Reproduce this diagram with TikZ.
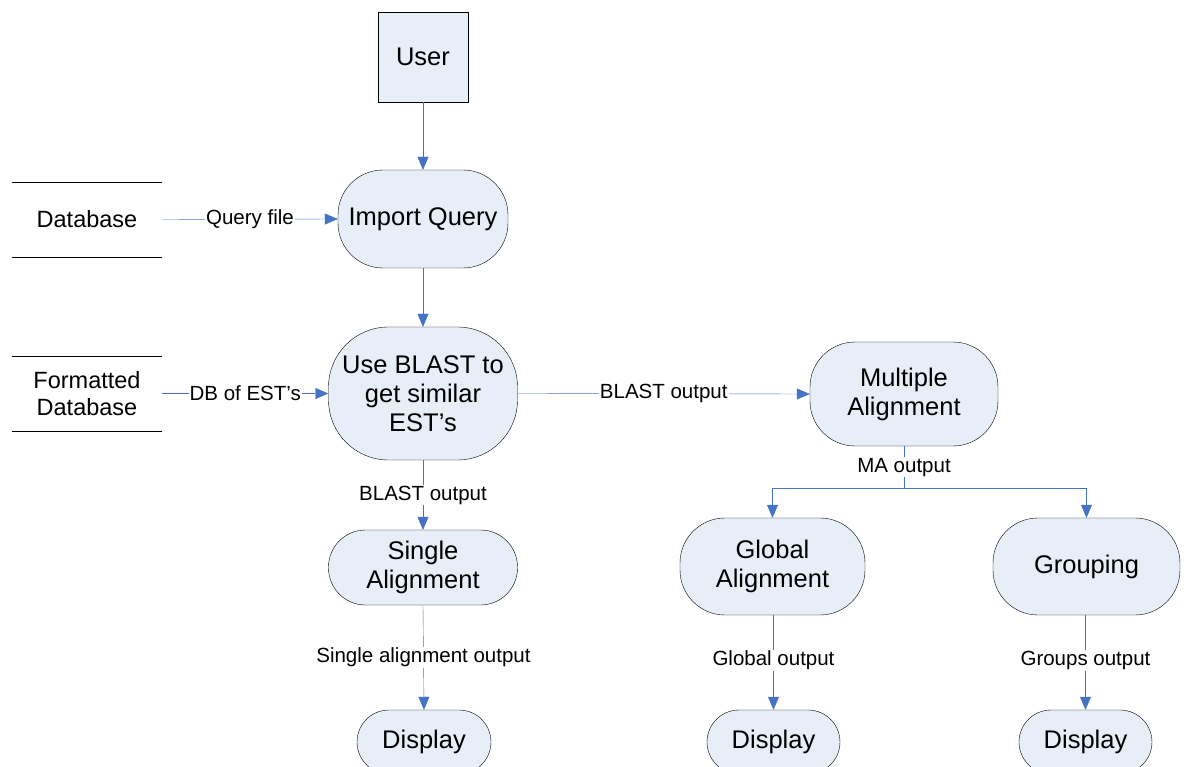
\documentclass[tikz,border=0pt]{standalone}
\usepackage{fontspec}
\setmainfont{Liberation Sans}
\usetikzlibrary{arrows.meta}
\definecolor{procfill}{HTML}{E8EEF8}
\definecolor{flowblue}{HTML}{4472C4}
\begin{document}
\begin{tikzpicture}[x=1pt,y=-1pt,
  proc/.style={draw=black,fill=procfill,rounded corners=45pt,align=center,
    inner sep=0pt,font=\fontsize{25.5}{29}\selectfont},
  store/.style={inner sep=0pt,align=center,minimum width=150pt,minimum height=75pt,
    font=\fontsize{23.5}{27}\selectfont},
  flow/.style={draw=flowblue,-{Triangle[length=13pt,width=11pt]}},
  lbl/.style={fill=white,inner sep=1pt,font=\fontsize{20.5}{23}\selectfont}]
\useasboundingbox (0,0) rectangle (1184,767);
% nodes
\node[draw=black,fill=procfill,minimum size=90pt,inner sep=0pt,
  font=\fontsize{25.5}{29}\selectfont] (user) at (423,57) {User};
\node[proc,minimum width=170pt,minimum height=98pt] (import) at (423,219) {Import Query};
\node[proc,minimum width=189pt,minimum height=133pt,rounded corners=60pt]
  (blast) at (423,393.5) {Use BLAST to\\get similar\\EST's};
\node[proc,minimum width=188pt,minimum height=104pt] (multi) at (904,394) {Multiple\\Alignment};
\node[proc,minimum width=189pt,minimum height=75pt,rounded corners=37pt]
  (single) at (423,567.5) {Single\\Alignment};
\node[proc,minimum width=185pt,minimum height=97pt] (global) at (772.5,566.5) {Global\\Alignment};
\node[proc,minimum width=187pt,minimum height=97pt] (group) at (1086.5,566.5) {Grouping};
\node[proc,minimum width=134pt,minimum height=64pt,rounded corners=32pt] (dispA) at (424,742) {Display};
\node[proc,minimum width=133pt,minimum height=64pt,rounded corners=32pt] (dispB) at (773.5,742) {Display};
\node[proc,minimum width=133pt,minimum height=64pt,rounded corners=32pt] (dispC) at (1085.5,742) {Display};
% data stores
\node[store] (db) at (87,219.5) {Database};
\node[store] (fdb) at (87,393.5) {Formatted\\Database};
\draw (db.north west) -- (db.north east);
\draw (db.south west) -- (db.south east);
\draw (fdb.north west) -- (fdb.north east);
\draw (fdb.south west) -- (fdb.south east);
% flows
\draw[flow] (user) -- (import);
\draw[flow] (import) -- (blast);
\draw[flow] (db.east) -- node[lbl] {Query file} (import.west);
\draw[flow] (fdb.east) -- node[lbl] {DB of EST's} (blast.west);
\draw[flow] (blast.east) -- node[lbl] {BLAST output} (multi.west);
\draw[flow] (blast) -- node[lbl] {BLAST output} (single);
\coordinate (split) at (904,488);
\draw[draw=flowblue] (multi) -- node[lbl] {MA output} (split);
\draw[flow] (split) -| (global.north);
\draw[flow] (split) -| (group.north);
\draw[flow] (single.south) -- node[lbl,pos=0.5] {Single alignment output} (dispA.north);
\draw[flow] (global.south -| dispB.north) -- node[lbl,pos=0.48] {Global output} (dispB.north);
\draw[flow] (group.south -| dispC.north) -- node[lbl,pos=0.48] {Groups output} (dispC.north);
\end{tikzpicture}
\end{document}
